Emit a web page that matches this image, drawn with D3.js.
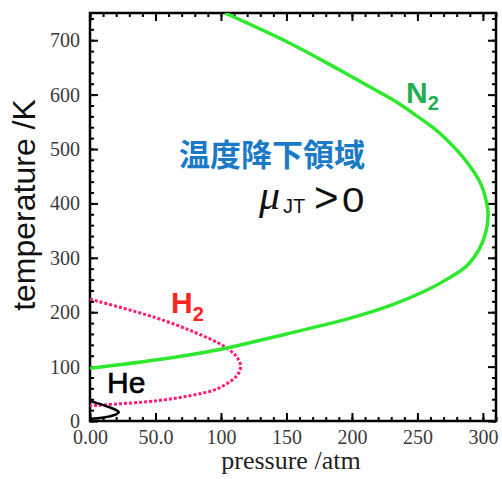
<!DOCTYPE html>
<html>
<head>
<meta charset="utf-8">
<script src="https://cdn.jsdelivr.net/npm/d3@7"></script>
<style>
  body { margin: 0; background: #fff; }
  .tick text { font-family: "Times New Roman", "Liberation Serif", serif; font-size: 20px; font-weight: normal; fill: #3a3a3a; }
  .domain { display: none; }
</style>
</head>
<body>
<div id="chart"></div>
<script>
// inversion curves (pressure /atm, temperature /K)
const n2Pressure = [0, 50, 100, 150, 200, 230, 255, 275, 288, 297, 302, 304, 302, 298, 292, 283, 272, 261, 247, 235, 222, 190, 153, 103];
const n2Temp     = [97, 112, 132, 160, 190, 213, 238, 264, 286, 315, 345, 378, 410, 438, 462, 490, 518, 541, 565, 585, 603, 646, 694, 750];

const h2Pressure = [0, 50, 80, 102, 112, 115, 112, 97, 75, 50, 0];
const h2Temp     = [224, 190, 163, 138, 118, 100, 83, 59, 46, 37, 28];

const hePressure = [0, 8, 15, 20, 22, 20, 14, 6, 0];
const heTemp     = [37, 31, 25, 20, 16, 12, 8, 5, 4];

const xMajor = [0, 50, 100, 150, 200, 250, 300];
const yMajor = [0, 100, 200, 300, 400, 500, 600, 700];

const width = 502, height = 479;
const margin = {top: 13, right: 6, bottom: 58, left: 90};
const w = width - margin.left - margin.right;
const h = height - margin.top - margin.bottom;

const svg = d3.select('#chart').append('svg')
    .attr('width', width)
    .attr('height', height);
const g = svg.append('g')
    .attr('transform', 'translate(' + margin.left + ',' + margin.top + ')');

const x = d3.scaleLinear().domain([0, 310]).range([0, w]);
const y = d3.scaleLinear().domain([0, 750]).range([h, 0]);

const xMinor = d3.range(0, 311, 10);
const yMinor = d3.range(0, 751, 20);

// minor ticks (inside, all four sides)
g.append('g').attr('transform', 'translate(0,' + h + ')')
  .call(d3.axisBottom(x).tickValues(xMinor).tickSize(-4).tickFormat(''));
g.append('g')
  .call(d3.axisTop(x).tickValues(xMinor).tickSize(-4).tickFormat(''));
g.append('g')
  .call(d3.axisLeft(y).tickValues(yMinor).tickSize(-4).tickFormat(''));
g.append('g').attr('transform', 'translate(' + w + ',0)')
  .call(d3.axisRight(y).tickValues(yMinor).tickSize(-4).tickFormat(''));

// major ticks
g.append('g').attr('transform', 'translate(0,' + h + ')')
  .call(d3.axisBottom(x).tickValues(xMajor).tickSizeInner(-8).tickPadding(9).tickFormat(d3.format('.3r')));
g.append('g')
  .call(d3.axisTop(x).tickValues(xMajor).tickSize(-8).tickFormat(''));
g.append('g')
  .call(d3.axisLeft(y).tickValues(yMajor).tickSizeInner(-8).tickPadding(10).tickFormat(d3.format('d')));
g.append('g').attr('transform', 'translate(' + w + ',0)')
  .call(d3.axisRight(y).tickValues(yMajor).tickSize(-8).tickFormat(''));

g.selectAll('.tick line').attr('stroke', '#000').attr('stroke-width', 2);

// frame
g.append('rect')
  .attr('width', w).attr('height', h)
  .attr('fill', 'none').attr('stroke', '#000').attr('stroke-width', 2.5);

svg.append('clipPath').attr('id', 'plotclip')
  .append('rect').attr('width', w).attr('height', h);

const line = d3.line()
  .x(d => x(d[0]))
  .y(d => y(d[1]))
  .curve(d3.curveCatmullRom);

const curves = g.append('g').attr('clip-path', 'url(#plotclip)');

curves.append('path')
  .datum(d3.zip(h2Pressure, h2Temp))
  .attr('d', line)
  .attr('fill', 'none')
  .attr('stroke', '#ff1a78')
  .attr('stroke-width', 3)
  .attr('stroke-dasharray', '3,2');

curves.append('path')
  .datum(d3.zip(n2Pressure, n2Temp))
  .attr('d', line)
  .attr('fill', 'none')
  .attr('stroke', '#2ee82e')
  .attr('stroke-width', 3.5);

curves.append('path')
  .datum(d3.zip(hePressure, heTemp))
  .attr('d', line)
  .attr('fill', 'none')
  .attr('stroke', '#000')
  .attr('stroke-width', 2.5);

// labels
const sans = '"Liberation Sans", Arial, sans-serif';

const n2 = svg.append('text')
  .attr('x', 406).attr('y', 103)
  .attr('font-family', sans).attr('font-weight', 'bold')
  .attr('font-size', 30).attr('fill', '#1fae50');
n2.append('tspan').text('N');
n2.append('tspan').attr('font-size', 20).attr('dy', 7).text('2');

const h2 = svg.append('text')
  .attr('x', 171).attr('y', 313)
  .attr('font-family', sans).attr('font-weight', 'bold')
  .attr('font-size', 30).attr('fill', '#ff2222');
h2.append('tspan').text('H');
h2.append('tspan').attr('font-size', 20).attr('dy', 8).text('2');

svg.append('text')
  .attr('x', 107).attr('y', 393)
  .attr('font-family', sans).attr('font-size', 30)
  .attr('fill', '#000').attr('stroke', '#000').attr('stroke-width', 0.6)
  .text('He');

svg.append('text')
  .attr('x', 179).attr('y', 166)
  .attr('font-family', '"Noto Sans CJK JP", "Noto Sans CJK SC", sans-serif')
  .attr('font-weight', 'bold')
  .attr('font-size', 31).attr('fill', '#1a7ac8')
  .text('温度降下領域');

// mu_JT > 0
const mu = svg.append('text')
  .attr('y', 209)
  .attr('font-family', sans).attr('fill', '#111');
mu.append('tspan').attr('x', 259).attr('font-style', 'italic')
  .attr('font-family', '"Times New Roman", "Liberation Serif", serif')
  .attr('font-size', 42).text('μ');
mu.append('tspan').attr('x', 283).attr('y', 213).attr('font-size', 20).text('JT');
mu.append('tspan').attr('x', 314).attr('y', 212).attr('font-size', 42).text('>');

svg.append('text')
  .attr('transform', 'translate(342,212) scale(1.15,1)')
  .attr('font-family', sans)
  .attr('font-size', 35).attr('fill', '#111')
  .text('0');

// axis titles
svg.append('text')
  .attr('x', margin.left + x(100) + 70).attr('y', 469)
  .attr('text-anchor', 'middle')
  .attr('font-family', '"Times New Roman", "Liberation Serif", serif')
  .attr('font-size', 26).attr('fill', '#222')
  .text('pressure /atm');

svg.append('text')
  .attr('transform', 'translate(35,205) rotate(-90)')
  .attr('text-anchor', 'middle')
  .attr('font-family', sans)
  .attr('font-size', 32).attr('fill', '#111')
  .text('temperature /K');
</script>
</body>
</html>
